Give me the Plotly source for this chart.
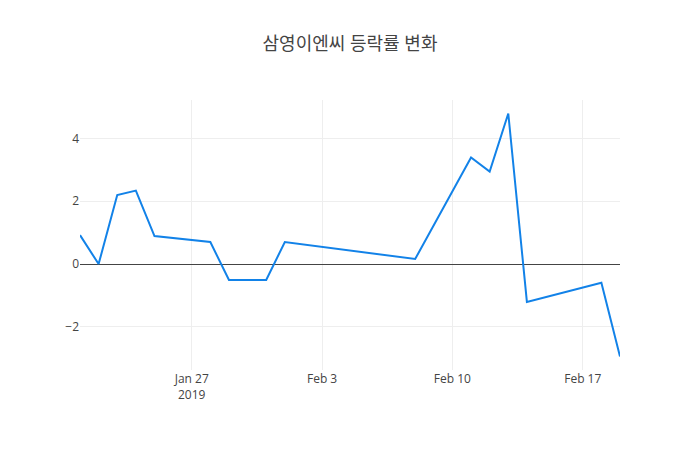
import plotly.graph_objects as go

dates = ["2019-01-21", "2019-01-22", "2019-01-23", "2019-01-24", "2019-01-25",
         "2019-01-28", "2019-01-29", "2019-01-30", "2019-01-31", "2019-02-01",
         "2019-02-08", "2019-02-11", "2019-02-12", "2019-02-13", "2019-02-14",
         "2019-02-18", "2019-02-19"]
change = [0.92, 0.0, 2.2, 2.34, 0.89,
          0.7, -0.51, -0.51, -0.51, 0.7,
          0.16, 3.4, 2.95, 4.8, -1.21,
          -0.6, -2.95]

title_text = "삼영이엔씨 등락률 변화"

fig = go.Figure(go.Scatter(x=dates, y=change, mode="lines",
                           line=dict(color="#1282e8", width=2)))
fig.update_layout(
    template="none",
    width=700, height=450,
    title=dict(text=title_text, x=0.5,
               font=dict(family="Open Sans, Noto Sans CJK KR", size=18, color="#444")),
    font=dict(family="Open Sans, Noto Sans CJK KR", size=12, color="#444"),
    margin=dict(l=80, r=80, t=100, b=80),
    xaxis=dict(gridcolor="#eee", showline=False, ticks=""),
    yaxis=dict(gridcolor="#eee", zeroline=True, zerolinecolor="#444", zerolinewidth=1,
               showline=False, ticks=""),
    plot_bgcolor="white", paper_bgcolor="white",
    showlegend=False,
)
fig.write_html("out.html")
